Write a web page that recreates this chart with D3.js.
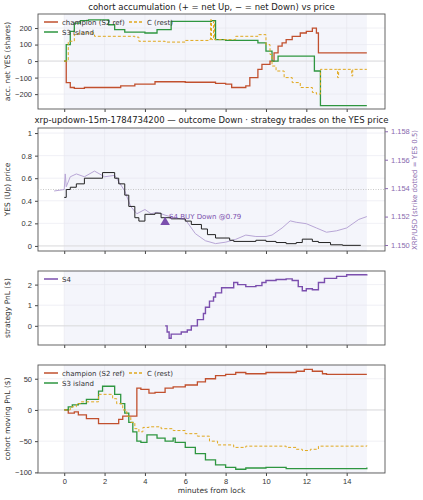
<!DOCTYPE html>
<html><head><meta charset="utf-8">
<script src="https://cdn.jsdelivr.net/npm/d3@7"></script>
<style>body{margin:0;background:#fff;font-family:"DejaVu Sans",sans-serif}</style>
</head><body><svg id="c" width="423" height="500"></svg>
<script>
// ---- data ----
const accChampion=[[0,0],[0.1,-130],[0.3,-160],[0.5,-165],[1,-160],[2.8,-150],[3.5,-140],[4.5,-125],[6,-128],[7.5,-135],[8,-140],[8.3,-160],[9,-150],[9.2,-100],[9.6,-50],[9.8,-20],[10.2,0],[10.4,50],[10.6,90],[10.8,110],[11,130],[11.3,150],[11.7,170],[12,180],[12.3,200],[12.5,170],[12.6,50],[15,50]];
const accS3=[[0,0],[0.1,100],[0.3,180],[0.5,230],[0.8,245],[1.2,250],[2.2,220],[2.5,190],[3,175],[4,170],[4.6,190],[5.3,240],[7.3,245],[7.5,130],[8,125],[9.6,110],[10,60],[10.3,0],[10.6,30],[12.3,30],[12.4,-60],[12.7,-270],[15,-270]];
const accC=[[0,0],[0.2,120],[0.5,160],[0.7,170],[1.5,150],[3.5,145],[3.7,120],[5,115],[6,125],[7.2,130],[7.25,250],[7.3,130],[7.4,240],[7.45,130],[8.5,150],[9.6,160],[10,100],[10.2,40],[10.3,-30],[10.5,-60],[10.9,-100],[11.3,-130],[11.7,-160],[12.3,-190],[12.5,-200],[12.7,-50],[13.5,-50],[13.55,-100],[13.6,-50],[14.2,-50],[14.25,-90],[14.3,-50],[15,-50]];
const yesPrice=[[0,0.43],[0.1,0.5],[0.3,0.52],[0.6,0.55],[1,0.6],[1.9,0.65],[2.5,0.6],[2.7,0.55],[3,0.45],[3.2,0.35],[3.5,0.25],[3.7,0.22],[4,0.28],[4.5,0.29],[4.8,0.25],[5.3,0.24],[6,0.22],[6.3,0.19],[6.8,0.15],[7.1,0.1],[7.5,0.07],[8.2,0.05],[8.4,0.04],[9.5,0.05],[10,0.04],[10.5,0.03],[11,0.02],[11.5,0.03],[11.8,0.06],[12.3,0.04],[12.6,0.03],[13.2,0.01],[13.8,0.005],[14.7,0.005]];
const xrp=[[-0.5,1.1538],[0,1.1539],[0.05,1.155],[0.1,1.1541],[0.3,1.1548],[0.6,1.155],[1,1.1548],[1.5,1.1552],[2,1.1548],[2.5,1.1549],[3,1.1538],[3.3,1.1527],[3.6,1.1522],[4,1.1525],[4.3,1.1522],[4.6,1.1523],[5,1.1521],[5.5,1.1519],[6,1.1518],[6.5,1.1508],[7,1.1503],[7.5,1.1501],[8,1.1502],[8.5,1.1504],[9,1.1507],[9.5,1.1506],[10,1.1506],[10.3,1.1507],[10.8,1.1512],[11.2,1.1517],[11.5,1.1516],[12,1.1515],[12.5,1.1512],[13,1.1509],[13.5,1.151],[14,1.1512],[14.6,1.1518],[15,1.152]];
const trade={t:5,p:0.21,label:"S4 BUY Down @0.79"};
const s4Pnl=[[5,0],[5.1,-0.3],[5.2,-0.6],[5.3,-0.4],[5.6,-0.4],[5.8,-0.3],[6.1,-0.2],[6.3,0],[6.6,0.3],[6.9,0.6],[7,0.9],[7.2,1.2],[7.4,1.4],[7.5,1.6],[7.8,1.85],[8.4,2.1],[8.6,2.0],[9,1.9],[9.5,1.95],[9.8,2.1],[10,2.2],[10.5,2.25],[11,2.28],[11.3,2.2],[11.6,1.9],[11.8,1.7],[12,1.8],[12.3,1.75],[12.6,2.1],[12.9,2.3],[13.5,2.4],[14,2.48],[15,2.5]];
const pnlChampion=[[0,0],[0.2,-5],[0.5,-3],[0.7,-8],[1.1,-14],[1.7,-22],[2.7,-15],[2.9,-10],[3.6,35],[3.8,33],[4.2,27],[4.5,28],[5,35],[5.4,37],[6,40],[6.6,45],[7,50],[7.5,55],[8,57],[8.5,60],[9,58],[10,60],[11,60],[11.5,62],[11.9,65],[12.3,62],[12.8,58],[13,57],[15,57]];
const pnlS3=[[0,0],[0.2,5],[0.4,8],[0.7,10],[1.1,17],[1.7,30],[1.9,38],[2.5,25],[2.8,10],[3,-5],[3.2,-20],[3.4,-35],[3.6,-50],[3.8,-52],[4.1,-40],[4.6,-45],[5,-50],[5.4,-45],[5.5,-52],[6,-60],[6.5,-70],[7,-80],[7.5,-88],[8,-92],[8.5,-95],[9,-93],[10,-92],[11,-94],[13,-94],[15,-92]];
const pnlC=[[0,0],[0.3,5],[0.6,10],[0.8,13],[1.7,25],[2.4,18],[2.6,10],[2.9,0],[3.1,-10],[3.3,-20],[3.5,-30],[3.7,-35],[3.9,-28],[4.2,-27],[4.8,-30],[5.4,-33],[6,-38],[6.6,-42],[7.2,-50],[7.6,-56],[8.4,-60],[9,-58],[10,-58],[11,-60],[11.5,-63],[11.8,-65],[12.2,-63],[12.6,-58],[15,-57]];
const xTicks=[0,2,4,6,8,10,12,14];
const COL={ch:"#c1502e",s3:"#2e9640",c:"#e0a81e",s4:"#7b4fae",yes:"#222",xrp:"#b8a6d6",axR:"#8a6aae"};

// ---- drawing ----
const svg=d3.select("#c");
const L=38,R=385;
const x=d3.scaleLinear().domain([-1.3,15.9]).range([L,R]);
function panel(top,bot,dom,ticks,ylabel,showX){
  const y=d3.scaleLinear().domain(dom).range([bot,top]);
  const g=svg.append("g");
  g.append("rect").attr("x",x(0)).attr("y",top).attr("width",x(15)-x(0)).attr("height",bot-top).attr("fill","#f4f5fb");
  xTicks.forEach(t=>g.append("line").attr("x1",x(t)).attr("x2",x(t)).attr("y1",top).attr("y2",bot).attr("stroke","#e6e6ee").attr("stroke-width",0.6));
  ticks.forEach(t=>g.append("line").attr("x1",L).attr("x2",R).attr("y1",y(t)).attr("y2",y(t)).attr("stroke","#e6e6ee").attr("stroke-width",0.6));
  g.append("line").attr("x1",L).attr("x2",R).attr("y1",y(0)).attr("y2",y(0)).attr("stroke","#d8d8d8").attr("stroke-width",0.8);
  const ya=g.append("g").attr("transform",`translate(${L},0)`).call(d3.axisLeft(y).tickValues(ticks).tickSize(3).tickFormat(d=>String(d).replace("-","\u2212")));
  const xa=g.append("g").attr("transform",`translate(0,${bot})`).call(d3.axisBottom(x).tickValues(xTicks).tickSize(3).tickFormat(showX?d3.format("d"):""));
  [ya,xa].forEach(a=>{a.select(".domain").remove();a.selectAll("text").attr("font-size",7.5).attr("fill","#333");a.selectAll("line").attr("stroke","#444");});
  g.append("rect").attr("x",L).attr("y",top).attr("width",R-L).attr("height",bot-top).attr("fill","none").attr("stroke","#555").attr("stroke-width",0.9);
  g.append("text").attr("transform",`translate(10,${(top+bot)/2}) rotate(-90)`).attr("text-anchor","middle").attr("font-size",7.5).attr("fill","#333").text(ylabel);
  return y;
}
function step(y,data,color,w,dash){
  svg.append("path").datum(data).attr("d",d3.line().x(d=>x(d[0])).y(d=>y(d[1])).curve(d3.curveStepAfter))
    .attr("fill","none").attr("stroke",color).attr("stroke-width",w).attr("stroke-dasharray",dash||null);
}
function legend(items,x0,y0,cols){
  items.forEach((it,i)=>{
    const cx=x0+(i%cols?110:0)*(cols>1?1:0)+(cols>1?Math.floor(i%cols)*0:0);
    const col=i%cols, row=Math.floor(i/cols);
    const lx=x0+col*85, ly=y0+row*10;
    svg.append("line").attr("x1",lx).attr("x2",lx+14).attr("y1",ly).attr("y2",ly).attr("stroke",it.c).attr("stroke-width",1.5).attr("stroke-dasharray",it.d||null);
    svg.append("text").attr("x",lx+18).attr("y",ly+2.5).attr("font-size",7).attr("fill","#333").text(it.t);
  });
}
function title(t,yy){svg.append("text").attr("x",(L+R)/2).attr("y",yy).attr("text-anchor","middle").attr("font-size",8.5).attr("fill","#222").text(t);}

// Panel 1
title("cohort accumulation (+ = net Up, \u2212 = net Down) vs price",10);
const y1=panel(14,109,[-290,285],[-200,-100,0,100,200],"acc. net YES (shares)",false);
step(y1,accChampion,COL.ch,1.3);step(y1,accS3,COL.s3,1.3);step(y1,accC,COL.c,1,"3,2");
legend([{t:"champion (S2 ref)",c:COL.ch},{t:"C (rest)",c:COL.c,d:"3,2"},{t:"S3 island",c:COL.s3}],44,22,2);

// Panel 2
title("xrp-updown-15m-1784734200 \u2014 outcome Down \u00b7 strategy trades on the YES price",123);
const y2=panel(128,251,[-0.045,1.045],[0,0.2,0.4,0.6,0.8,1.0],"YES (Up) price",false);
const y2r=d3.scaleLinear().domain([1.14958,1.15823]).range([251,128]);
svg.append("line").attr("x1",L).attr("x2",R).attr("y1",y2(0.5)).attr("y2",y2(0.5)).attr("stroke","#bbb").attr("stroke-width",0.8).attr("stroke-dasharray","1,1.5");
svg.append("path").datum(xrp).attr("d",d3.line().x(d=>x(d[0])).y(d=>y2r(d[1]))).attr("fill","none").attr("stroke",COL.xrp).attr("stroke-width",1);
step(y2,yesPrice,COL.yes,1);
svg.append("path").attr("d",d3.symbol(d3.symbolTriangle,40)()).attr("transform",`translate(${x(trade.t)},${y2(trade.p)})`).attr("fill",COL.s4);
svg.append("text").attr("x",x(trade.t)+4).attr("y",y2(trade.p+0.03)).attr("font-size",7).attr("fill",COL.s4).text(trade.label);
const ra=svg.append("g").attr("transform",`translate(${R},0)`).call(d3.axisRight(y2r).tickValues([1.150,1.152,1.154,1.156,1.158]).tickSize(3).tickFormat(d3.format(".3f")));
ra.select(".domain").remove();ra.selectAll("text").attr("font-size",7.5).attr("fill",COL.axR);ra.selectAll("line").attr("stroke",COL.axR);
svg.append("text").attr("transform",`translate(417,190) rotate(-90)`).attr("text-anchor","middle").attr("font-size",7).attr("fill",COL.axR).text("XRP/USD (strike dotted = YES 0.5)");

// Panel 3
const y3=panel(271,345,[-0.93,2.66],[0,1,2],"strategy PnL ($)",false);
step(y3,s4Pnl,COL.s4,1.4);
legend([{t:"S4",c:COL.s4}],44,279,1);

// Panel 4
const y4=panel(365,473,[-101,72],[-100,-50,0,50],"cohort moving PnL ($)",true);
step(y4,pnlChampion,COL.ch,1.3);step(y4,pnlS3,COL.s3,1.3);step(y4,pnlC,COL.c,1,"3,2");
legend([{t:"champion (S2 ref)",c:COL.ch},{t:"C (rest)",c:COL.c,d:"3,2"},{t:"S3 island",c:COL.s3}],44,373,2);
svg.append("text").attr("x",(L+R)/2).attr("y",493).attr("text-anchor","middle").attr("font-size",7.5).attr("fill","#333").text("minutes from lock");
</script></body></html>
